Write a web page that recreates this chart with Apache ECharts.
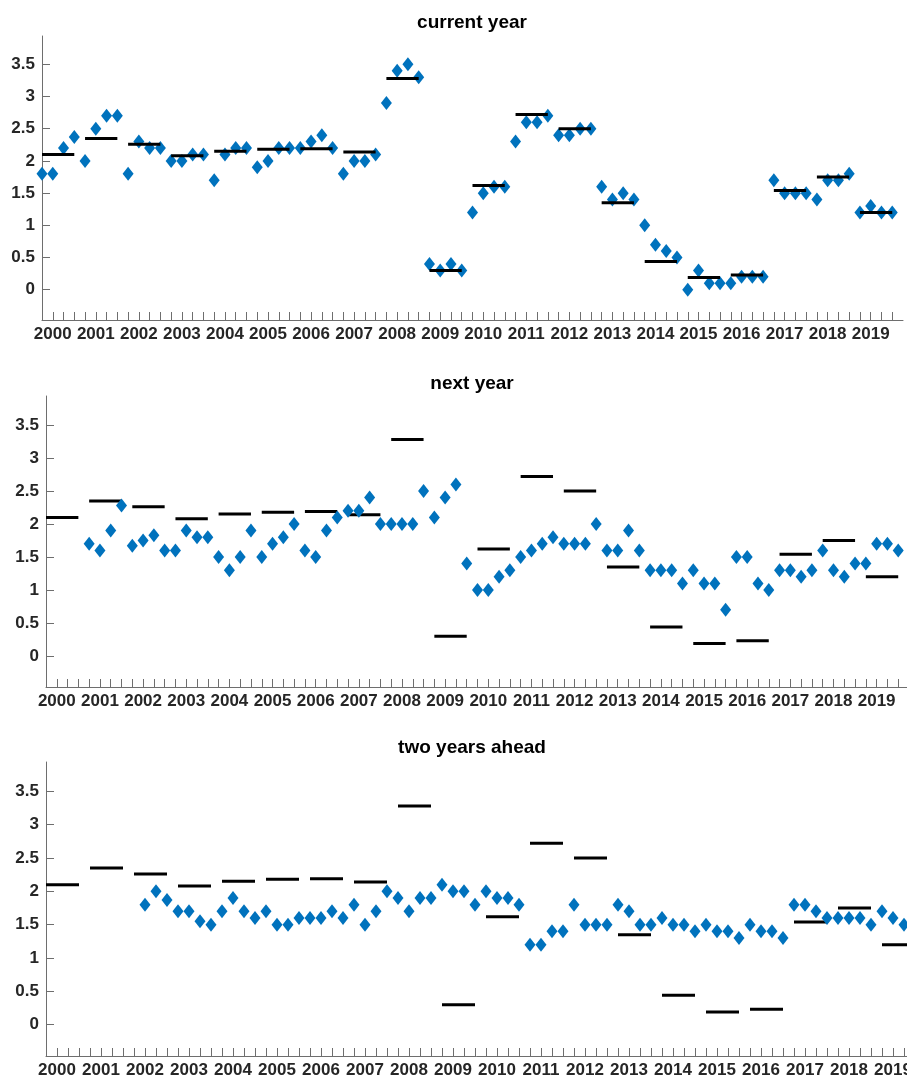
<!DOCTYPE html>
<html>
<head>
<meta charset="utf-8">
<script src="https://cdn.jsdelivr.net/npm/echarts@6/dist/echarts.min.js"></script>
<style>
  html, body { margin: 0; padding: 0; background: #fff; overflow: hidden; }
  #chart { width: 907px; height: 1080px; }
</style>
</head>
<body>
<div id="chart"></div>
<script>
// years shown on the x axis, one group of 4 quarters each
const years = [2000, 2001, 2002, 2003, 2004, 2005, 2006, 2007, 2008, 2009,
               2010, 2011, 2012, 2013, 2014, 2015, 2016, 2017, 2018, 2019];

// realised annual value (black bars)
const annualActual = [2.1, 2.35, 2.26, 2.08, 2.15, 2.18, 2.19, 2.14, 3.28, 0.30,
                      1.62, 2.72, 2.50, 1.35, 0.44, 0.19, 0.23, 1.54, 1.75, 1.20];

// quarterly forecasts (blue diamonds), 4 per year
const currentYear = [
  1.8, 1.8, 2.2, 2.37,   2.0, 2.5, 2.7, 2.7,   1.8, 2.3, 2.2, 2.2,   2.0, 2.0, 2.1, 2.1,
  1.7, 2.1, 2.2, 2.2,    1.9, 2.0, 2.2, 2.2,   2.2, 2.3, 2.4, 2.2,   1.8, 2.0, 2.0, 2.1,
  2.9, 3.4, 3.5, 3.3,    0.4, 0.3, 0.4, 0.3,   1.2, 1.5, 1.6, 1.6,   2.3, 2.6, 2.6, 2.7,
  2.4, 2.4, 2.5, 2.5,    1.6, 1.4, 1.5, 1.4,   1.0, 0.7, 0.6, 0.5,   0.0, 0.3, 0.1, 0.1,
  0.1, 0.2, 0.2, 0.2,    1.7, 1.5, 1.5, 1.5,   1.4, 1.7, 1.7, 1.8,   1.2, 1.3, 1.2, 1.2
];
const nextYear = [
  null, null, null, null, 1.7, 1.6, 1.9, 2.28,  1.67, 1.75, 1.83, 1.6, 1.6, 1.9, 1.8, 1.8,
  1.5, 1.3, 1.5, 1.9,     1.5, 1.7, 1.8, 2.0,   1.6, 1.5, 1.9, 2.1,     2.2, 2.2, 2.4, 2.0,
  2.0, 2.0, 2.0, 2.5,     2.1, 2.4, 2.6, 1.4,   1.0, 1.0, 1.2, 1.3,     1.5, 1.6, 1.7, 1.8,
  1.7, 1.7, 1.7, 2.0,     1.6, 1.6, 1.9, 1.6,   1.3, 1.3, 1.3, 1.1,     1.3, 1.1, 1.1, 0.7,
  1.5, 1.5, 1.1, 1.0,     1.3, 1.3, 1.2, 1.3,   1.6, 1.3, 1.2, 1.4,     1.4, 1.7, 1.7, 1.6
];
const twoYearsAhead = [
  null, null, null, null, null, null, null, null, null, 1.8, 2.0, 1.87, 1.7, 1.7, 1.55, 1.5,
  1.7, 1.9, 1.7, 1.6,     1.7, 1.5, 1.5, 1.6,     1.6, 1.6, 1.7, 1.6,    1.8, 1.5, 1.7, 2.0,
  1.9, 1.7, 1.9, 1.9,     2.1, 2.0, 2.0, 1.8,     2.0, 1.9, 1.9, 1.8,    1.2, 1.2, 1.4, 1.4,
  1.8, 1.5, 1.5, 1.5,     1.8, 1.7, 1.5, 1.5,     1.6, 1.5, 1.5, 1.4,    1.5, 1.4, 1.4, 1.3,
  1.5, 1.4, 1.4, 1.3,     1.8, 1.8, 1.7, 1.6,     1.6, 1.6, 1.6, 1.5,    1.7, 1.6, 1.5, null
];

const yTicks = [0, 0.5, 1, 1.5, 2, 2.5, 3, 3.5];
const panelTitles = ['current year', 'next year', 'two years ahead'];

const font = '"Liberation Sans", Arial, Helvetica, sans-serif';
const axisGray = '#6e6e6e';
const textDark = '#262626';

const panels = [
  { values: currentYear,   grid: { left: 42, top: 36,  width: 861, height: 284 }, titleY: 23,  barsOnTop: true },
  { values: nextYear,      grid: { left: 46, top: 396, width: 863, height: 291 }, titleY: 384, barsOnTop: false },
  { values: twoYearsAhead, grid: { left: 46, top: 762, width: 880, height: 294 }, titleY: 748, barsOnTop: false }
];

const quarterTicks = years.flatMap((y, i) => [4 * i, 4 * i + 1, 4 * i + 2, 4 * i + 3]);
const yearLabelPos = years.map((y, i) => 4 * i + 1);

const myChart = echarts.init(document.getElementById('chart'), null, { renderer: 'canvas' });

const option = {
  animation: false,
  backgroundColor: '#fff',
  graphic: panels.map((p, i) => ({
    type: 'text',
    x: 472,
    y: p.titleY,
    style: {
      text: panelTitles[i],
      fill: '#000',
      font: 'bold 19px ' + font,
      align: 'center',
      verticalAlign: 'middle'
    }
  })),
  // outerBoundsMode none: keep the exact grid size, the last panel runs past the right edge
  grid: panels.map(p => Object.assign({ containLabel: false, outerBoundsMode: 'none' }, p.grid)),
  xAxis: panels.map((p, i) => ({
    gridIndex: i,
    type: 'value',
    min: 0,
    max: 80,
    axisLine: { show: true, onZero: false, lineStyle: { color: axisGray, width: 1 } },
    axisTick: { show: true, inside: true, length: 8, customValues: quarterTicks,
                lineStyle: { color: axisGray, width: 1 } },
    axisLabel: {
      customValues: yearLabelPos,
      formatter: v => String(years[Math.round((v - 1) / 4)]),
      margin: 6,
      color: textDark,
      fontSize: 17,
      fontWeight: 'bold',
      fontFamily: font,
      hideOverlap: false
    },
    splitLine: { show: false }
  })),
  yAxis: panels.map((p, i) => ({
    gridIndex: i,
    type: 'value',
    min: -0.47,
    max: 3.94,
    axisLine: { show: true, onZero: false, lineStyle: { color: axisGray, width: 1 } },
    axisTick: { show: true, inside: true, length: 8, customValues: yTicks,
                lineStyle: { color: axisGray, width: 1 } },
    axisLabel: {
      customValues: yTicks,
      margin: 7,
      color: textDark,
      fontSize: 17,
      fontWeight: 'bold',
      fontFamily: font
    },
    splitLine: { show: false }
  })),
  series: []
};

panels.forEach((p, i) => {
  // forecasts
  option.series.push({
    type: 'scatter',
    xAxisIndex: i,
    yAxisIndex: i,
    symbol: 'diamond',
    symbolSize: [11, 14],
    itemStyle: { color: '#0072BD', opacity: 1 },
    z: p.barsOnTop ? 2 : 4,
    data: p.values.map((v, q) => [q, v]).filter(d => d[1] !== null)
  });
  // annual outcome, drawn from first to last quarter of each year
  option.series.push({
    type: 'custom',
    xAxisIndex: i,
    yAxisIndex: i,
    z: p.barsOnTop ? 4 : 2,
    data: annualActual.map((v, k) => [4 * k, v]),
    renderItem: (params, api) => {
      const a = api.coord([api.value(0), api.value(1)]);
      const b = api.coord([api.value(0) + 3, api.value(1)]);
      return {
        type: 'line',
        shape: { x1: a[0], y1: a[1], x2: b[0], y2: b[1] },
        style: { stroke: '#000', lineWidth: 3, lineCap: 'butt' }
      };
    }
  });
});

myChart.setOption(option);
</script>
</body>
</html>
